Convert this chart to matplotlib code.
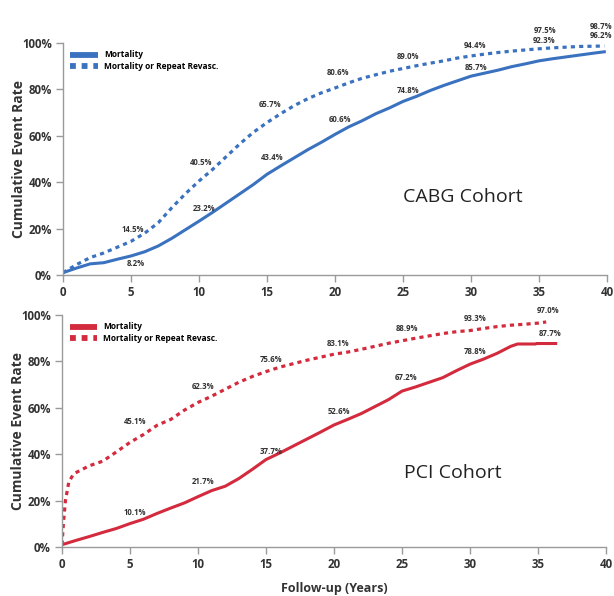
import matplotlib
matplotlib.use("Agg")
import matplotlib.pyplot as plt
from matplotlib.lines import Line2D
from matplotlib.ticker import FuncFormatter


# ---- CABG cohort (cumulative event rate, %) ----
cabg_years = [0, 1, 2, 3, 4, 5, 6, 7, 8, 9, 10, 11, 12, 13, 14, 15, 16, 17, 18, 19,
              20, 21, 22, 23, 24, 25, 26, 27, 28, 29, 30, 31, 32, 33, 34, 35, 36, 37,
              38, 39, 39.8]
cabg_mort = [1.0, 3.0, 4.8, 5.3, 6.8, 8.2, 10.0, 12.5, 15.8, 19.5, 23.2, 27.0, 31.0,
             35.0, 39.0, 43.4, 47.0, 50.5, 54.0, 57.2, 60.6, 63.8, 66.5, 69.5, 72.0,
             74.8, 77.0, 79.5, 81.7, 83.7, 85.7, 87.0, 88.3, 89.8, 91.0, 92.3, 93.2,
             94.0, 94.8, 95.6, 96.2]
cabg_combo = [1.0, 4.5, 7.5, 9.5, 12.0, 14.5, 18.0, 22.5, 29.0, 35.0, 40.5, 45.5, 51.0,
              56.5, 61.5, 65.7, 69.5, 73.0, 76.0, 78.5, 80.6, 82.8, 84.8, 86.3, 87.8,
              89.0, 90.2, 91.3, 92.3, 93.5, 94.4, 95.2, 95.9, 96.5, 97.0, 97.5, 97.9,
              98.2, 98.5, 98.6, 98.7]

# ---- PCI cohort ----
pci_mort_years = [0, 1, 2, 3, 4, 5, 6, 7, 8, 9, 10, 11, 12, 13, 14, 15, 16, 17, 18, 19,
                  20, 21, 22, 23, 24, 25, 26, 27, 28, 29, 30, 31, 32, 33, 33.5, 34.8,
                  34.9, 36.3]
pci_mort = [1.0, 2.8, 4.5, 6.3, 8.0, 10.1, 12.0, 14.5, 16.8, 19.0, 21.7, 24.3, 26.2,
            29.5, 33.5, 37.7, 40.5, 43.5, 46.5, 49.5, 52.6, 55.0, 57.5, 60.5, 63.5,
            67.2, 69.0, 71.0, 73.0, 76.0, 78.8, 81.0, 83.5, 86.5, 87.5, 87.5, 87.7, 87.7]
pci_combo_years = [0, 0.1, 0.25, 0.5, 0.8, 1, 2, 3, 4, 5, 6, 7, 8, 9, 10, 11, 12, 13,
                   14, 15, 16, 17, 18, 19, 20, 21, 22, 23, 24, 25, 26, 27, 28, 29, 30,
                   31, 32, 33, 34, 35, 35.6]
pci_combo = [1.0, 10.0, 20.0, 28.0, 31.0, 32.0, 35.0, 37.0, 41.0, 45.1, 48.5, 52.5,
             55.0, 59.0, 62.3, 65.0, 68.0, 71.0, 73.5, 75.6, 77.5, 79.0, 80.5, 81.8,
             83.1, 84.0, 85.2, 86.5, 87.8, 88.9, 90.0, 91.0, 92.0, 92.8, 93.3, 94.2,
             95.0, 95.6, 96.0, 96.5, 97.0]

# labelled time points
cabg_label_years = [5, 10, 15, 20, 25, 30, 35, 40]
cabg_mort_labels = [8.2, 23.2, 43.4, 60.6, 74.8, 85.7, 92.3, 96.2]
cabg_combo_labels = [14.5, 40.5, 65.7, 80.6, 89.0, 94.4, 97.5, 98.7]
pci_label_years = [5, 10, 15, 20, 25, 30, 35]
pci_mort_labels = [10.1, 21.7, 37.7, 52.6, 67.2, 78.8, 87.7]
pci_combo_labels = [45.1, 62.3, 75.6, 83.1, 88.9, 93.3, 97.0]

# label offsets in pixels (dx, dy)
cabg_mort_off = [(5, -8), (5, 13), (5, 17), (5, 15), (5, 11), (5, 9), (5, 20), (-6, 16)]
cabg_combo_off = [(2, 12), (2, 19), (3, 18), (3, 15), (5, 12), (4, 10), (6, 18), (-6, 19)]
pci_mort_off = [(5, 11), (5, 15), (5, 8), (5, 13), (4, 14), (5, 13), (12, 10)]
pci_combo_off = [(5, 21), (5, 16), (5, 12), (4, 11), (5, 12), (5, 12), (10, 11)]

BLUE = "#3a72bf"
RED = "#d32a3d"
TXT = "#333333"
SPINE = "#9a9a9a"
DOTS = (0, (1.3, 1.3))

plt.rcParams["font.family"] = ["Open Sans", "DejaVu Sans"]

fig = plt.figure(figsize=(6.14, 5.96), dpi=100)
ax_top = fig.add_axes([0.1026, 0.5386, 0.886, 0.3893])
ax_bot = fig.add_axes([0.1010, 0.0822, 0.886, 0.3893])


def style_axes(ax):
    ax.set_xlim(0, 40)
    ax.set_ylim(0, 100)
    ax.set_xticks(range(0, 41, 5))
    ax.set_yticks(range(0, 101, 20))
    ax.yaxis.set_major_formatter(FuncFormatter(lambda v, p: f"{v:.0f}%"))
    for side in ("top", "right"):
        ax.spines[side].set_visible(False)
    for side in ("left", "bottom"):
        ax.spines[side].set_color(SPINE)
        ax.spines[side].set_linewidth(1.0)
    ax.tick_params(direction="out", length=5, width=1, color=SPINE,
                   labelcolor=TXT, labelsize=8.3, pad=3)
    for lab in ax.get_xticklabels() + ax.get_yticklabels():
        lab.set_fontweight("bold")
    ax.set_ylabel("Cumulative Event Rate", fontsize=10, fontweight="bold",
                  color=TXT)
    ax.yaxis.set_label_coords(-0.068, 0.5)


def put_labels(ax, years, values, offsets):
    for yr, v, (dx, dy) in zip(years, values, offsets):
        ax.annotate(f"{v:.1f}%", xy=(yr, v), xytext=(dx, dy),
                    textcoords="offset pixels", ha="center", va="center",
                    fontsize=5.6, fontweight="bold", color=TXT,
                    annotation_clip=False)


def add_legend(ax, color):
    handles = [
        Line2D([], [], color=color, lw=4.2, solid_capstyle="butt"),
        Line2D([], [], color=color, lw=4.2, dash_capstyle="butt", linestyle=(0, (1, 1))),
    ]
    ax.legend(handles, ["Mortality", "Mortality or Repeat Revasc."],
              loc="upper left", bbox_to_anchor=(0.0, 1.0), frameon=False,
              prop={"size": 6, "weight": "bold"}, handlelength=3.3,
              handletextpad=0.7, labelspacing=0.3, borderpad=0.4,
              borderaxespad=0.5)


# top panel: CABG
style_axes(ax_top)
ax_top.plot(cabg_years, cabg_mort, color=BLUE, lw=2.2)
ax_top.plot(cabg_years, cabg_combo, color=BLUE, lw=2.3, linestyle=DOTS,
            dash_capstyle="butt")
put_labels(ax_top, cabg_label_years, cabg_mort_labels, cabg_mort_off)
put_labels(ax_top, cabg_label_years, cabg_combo_labels, cabg_combo_off)
add_legend(ax_top, BLUE)
ax_top.text(29.4, 33.6, "CABG Cohort", fontsize=14, color="#222222",
            ha="center", va="center")

# bottom panel: PCI
style_axes(ax_bot)
ax_bot.plot(pci_mort_years, pci_mort, color=RED, lw=2.2)
ax_bot.plot(pci_combo_years, pci_combo, color=RED, lw=2.3, linestyle=DOTS,
            dash_capstyle="butt")
put_labels(ax_bot, pci_label_years, pci_mort_labels, pci_mort_off)
put_labels(ax_bot, pci_label_years, pci_combo_labels, pci_combo_off)
add_legend(ax_bot, RED)
ax_bot.text(28.75, 31.9, "PCI Cohort", fontsize=14, color="#222222",
            ha="center", va="center")
ax_bot.set_xlabel("Follow-up (Years)", fontsize=9, fontweight="bold",
                  color=TXT, labelpad=8)

fig.savefig("out.png", dpi=100)
